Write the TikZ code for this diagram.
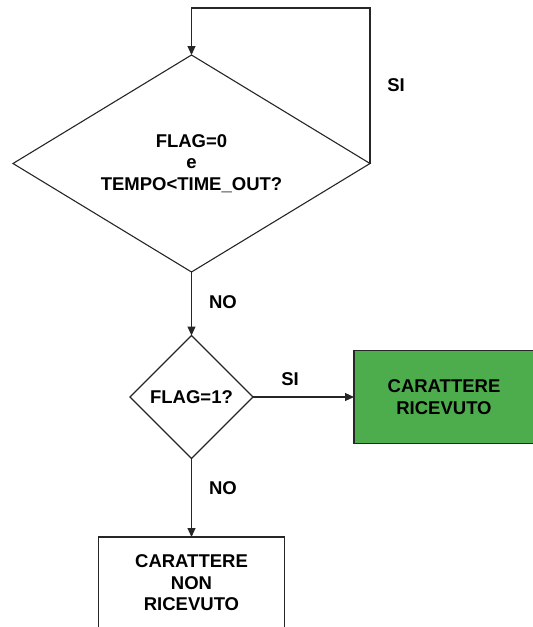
\documentclass[tikz,border=0pt]{standalone}
\usepackage{fontspec}
\setmainfont{Liberation Sans}
\usepackage{xcolor}
\usepackage{tikz}
\usetikzlibrary{arrows.meta, positioning, shapes.geometric}

\definecolor{okgreen}{RGB}{77,173,77}

\begin{document}
\begin{tikzpicture}[
    x=1pt, y=-1pt,
    font=\fontsize{18.5}{21.5}\selectfont\bfseries,
    decision/.style={
      diamond,
      draw=black!85,
      line width=1.1pt,
      align=center,
      inner sep=0pt,
      outer sep=0pt
    },
    action/.style={
      rectangle,
      draw=black!85,
      line width=1.1pt,
      align=center,
      inner sep=0pt,
      outer sep=0pt
    },
    answer/.style={
      inner sep=1pt
    },
    arrow/.style={
      -{Triangle[length=9pt, width=8pt]},
      line width=1.1pt,
      draw=black!85
    }
  ]

    \useasboundingbox (0,0) rectangle (533,627);

    % Waiting loop test
    \node[decision, aspect=1.645, minimum width=357pt, minimum height=217pt]
      (waitloop) at (191.5,163.5) {FLAG=0\\e\\TEMPO<TIME\_OUT?};

    % Flag test
    \node[decision, minimum width=123pt, minimum height=123pt,
      below=63.5pt of waitloop] (flagcheck) {FLAG=1?};

    % Results
    \node[action, fill=okgreen, minimum width=180pt, minimum height=93pt,
      right=101pt of flagcheck] (received) {CARATTERE\\RICEVUTO};
    \node[action, minimum width=186pt, minimum height=92pt,
      below=78.5pt of flagcheck] (notreceived) {CARATTERE\\NON\\RICEVUTO};

    % Loop back while waiting
    \coordinate (looptop) at (0,8);
    \draw[arrow] (waitloop.east) -- (waitloop.east |- looptop) -| (waitloop.north);

    % Forward connections
    \draw[arrow] (waitloop.south) -- (flagcheck.north);
    \draw[arrow] (flagcheck.east) -- (received.west);
    \draw[arrow] (flagcheck.south) -- (notreceived.north);

    % Answer labels
    \node[answer] (yesloop) at (396,85) {SI};
    \node[answer] (nowait) at (223,302) {NO};
    \node[answer] (yesflag) at (290,379) {SI};
    \node[answer] (noflag) at (223,488) {NO};

  \end{tikzpicture}
\end{document}
